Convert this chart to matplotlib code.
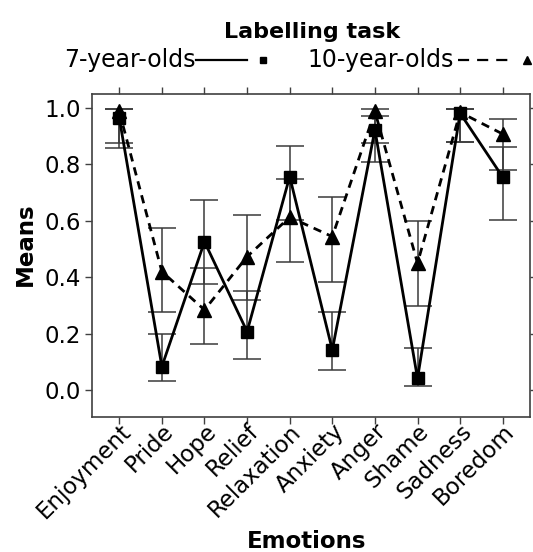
import numpy as np
import matplotlib
matplotlib.use("Agg")
import matplotlib.pyplot as plt
from matplotlib.lines import Line2D

# labelling task means with lower/upper limits
emotions = ["Enjoyment", "Pride", "Hope", "Relief", "Relaxation",
            "Anxiety", "Anger", "Shame", "Sadness", "Boredom"]
means_7 = [0.965, 0.083, 0.526, 0.207, 0.757, 0.142, 0.923, 0.041, 0.982, 0.755]
lo_7 = [0.858, 0.032, 0.376, 0.110, 0.603, 0.069, 0.810, 0.014, 0.878, 0.603]
hi_7 = [0.996, 0.199, 0.674, 0.351, 0.864, 0.278, 0.973, 0.148, 0.996, 0.862]
means_10 = [0.988, 0.420, 0.284, 0.473, 0.613, 0.544, 0.988, 0.450, 0.985, 0.908]
lo_10 = [0.876, 0.278, 0.163, 0.319, 0.455, 0.383, 0.876, 0.298, 0.878, 0.779]
hi_10 = [0.996, 0.576, 0.432, 0.621, 0.748, 0.686, 0.996, 0.600, 0.996, 0.961]

W, H = 533, 552
fig = plt.figure(figsize=(W / 100, H / 100), dpi=100)
ax = fig.add_axes([92 / W, 1 - 417 / H, (530 - 92) / W, (417 - 94) / H])

x = np.arange(len(emotions))
err_col = "#3a3a3a"


def draw_series(means, lo, hi, ls, marker, ms):
    m = np.array(means)
    yerr = [m - np.array(lo), np.array(hi) - m]
    ax.errorbar(x, m, yerr=yerr, fmt="none", ecolor=err_col, elinewidth=1.1,
                capsize=10, capthick=1.1, zorder=2)
    ax.plot(x, m, color="black", lw=2.0, linestyle=ls, marker=marker,
            markersize=ms, markerfacecolor="black", markeredgecolor="black",
            zorder=3)


draw_series(means_10, lo_10, hi_10, (0, (3, 2.2)), "^", 10.5)
draw_series(means_7, lo_7, hi_7, "-", "s", 9)

ax.set_xlim(-0.64, 9.64)
ax.set_ylim(-0.096, 1.05)
ax.set_yticks([0.0, 0.2, 0.4, 0.6, 0.8, 1.0])
ax.set_yticklabels(["0.0", "0.2", "0.4", "0.6", "0.8", "1.0"])
ax.set_xticks(x)
ax.set_xticklabels(emotions, rotation=45, ha="right", rotation_mode="anchor")

for s in ax.spines.values():
    s.set_color("#404040")
    s.set_linewidth(1.2)
ax.tick_params(direction="out", length=5, width=1, color="#404040",
               labelsize=16.5, top=True, right=True, pad=3)
ax.tick_params(axis="x", pad=-3)

ax.set_ylabel("Means", fontsize=16.5, fontweight="bold", va="center")
ax.yaxis.set_label_coords(-(92 - 25) / (530 - 92), (417 - 244) / (417 - 94))
ax.set_xlabel("Emotions", fontsize=16.5, fontweight="bold", va="center")
ax.xaxis.set_label_coords((307 - 92) / (530 - 92), -(541 - 417) / (417 - 94))

# title and legend drawn above the axes, text first then the line sample
fig.text(312 / W, 1 - 32 / H, "Labelling task", fontsize=16,
         fontweight="bold", ha="center", va="center")
ly = 1 - 60 / H
fig.text(196 / W, ly, "7-year-olds", fontsize=17, ha="right", va="center")
fig.add_artist(Line2D([196 / W, 247 / W], [ly, ly], color="black", lw=1.6))
fig.add_artist(Line2D([263 / W], [ly], marker="s", color="black",
                      markersize=4.5, linestyle="none"))
fig.text(307 / W, ly, "10-year-olds", fontsize=17, ha="left", va="center")
fig.add_artist(Line2D([458 / W, 512 / W], [ly, ly], color="black", lw=1.6,
                      linestyle=(0, (5, 3.6))))
fig.add_artist(Line2D([527 / W], [ly], marker="^", color="black",
                      markersize=5.5, linestyle="none"))

fig.savefig("out.png", dpi=100)
